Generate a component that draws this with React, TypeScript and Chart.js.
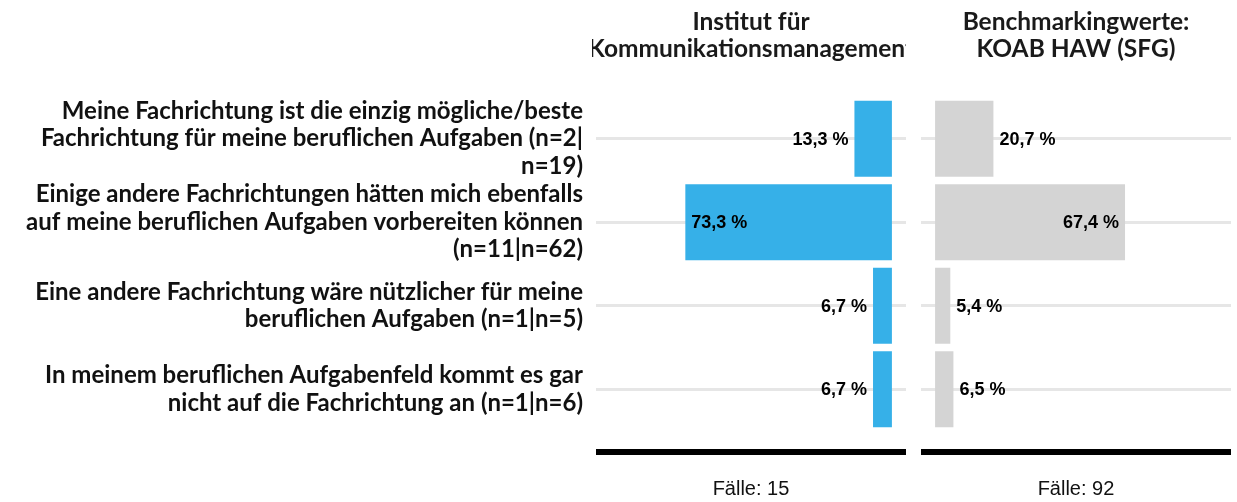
import React, { useEffect, useRef } from "react";
import { Chart, registerables } from "chart.js";

Chart.register(...registerables);

// ---------- data ----------
const categories: string[][] = [
  [
    "Meine Fachrichtung ist die einzig mögliche/beste",
    "Fachrichtung für meine beruflichen Aufgaben (n=2|",
    "n=19)",
  ],
  [
    "Einige andere Fachrichtungen hätten mich ebenfalls",
    "auf meine beruflichen Aufgaben vorbereiten können",
    "(n=11|n=62)",
  ],
  ["Eine andere Fachrichtung wäre nützlicher für meine", "beruflichen Aufgaben (n=1|n=5)"],
  ["In meinem beruflichen Aufgabenfeld kommt es gar", "nicht auf die Fachrichtung an (n=1|n=6)"],
];

const institutValues = [13.3, 73.3, 6.7, 6.7];
const benchmarkValues = [20.7, 67.4, 5.4, 6.5];

const institutTitle = ["Institut für", "Kommunikationsmanagement"];
const benchmarkTitle = ["Benchmarkingwerte:", "KOAB HAW (SFG)"];

const caseCounts = [15, 92];

// ---------- styling ----------
const BLUE = "#36b0e8";
const GRAY = "#d4d4d4";
const GRID = "#e6e6e6";
const TEXT = "#111111";
const LABEL_FONT = "Lato";
const VALUE_FONT = "'Liberation Sans', Arial, sans-serif";

const fmt = (v: number) => v.toFixed(1).replace(".", ",") + " %";

function makePanelPlugin(title: string[], cases: number) {
  return {
    id: "panelDecor",
    afterDatasetsDraw(chart: any) {
      const ctx = chart.ctx as CanvasRenderingContext2D;
      const area = chart.chartArea;
      const cx = (area.left + area.right) / 2;

      // value labels
      const meta = chart.getDatasetMeta(0);
      const values = chart.data.datasets[0].data as number[];
      ctx.save();
      ctx.font = `bold 18px ${VALUE_FONT}`;
      ctx.fillStyle = "#000";
      ctx.textBaseline = "middle";
      meta.data.forEach((bar: any, i: number) => {
        const v = values[i];
        const dir = bar.x >= bar.base ? 1 : -1;
        const inside = v > 50;
        let x: number;
        if (inside) {
          x = bar.x - dir * 6;
          ctx.textAlign = dir > 0 ? "right" : "left";
        } else {
          x = bar.x + dir * 6;
          ctx.textAlign = dir > 0 ? "left" : "right";
        }
        ctx.fillText(fmt(v), x, bar.y + 1);
      });
      ctx.restore();

      // header (clipped to panel)
      ctx.save();
      ctx.beginPath();
      ctx.rect(area.left - 4, 0, area.right - area.left + 4, area.top);
      ctx.clip();
      ctx.font = `bold 24.5px ${LABEL_FONT}`;
      ctx.fillStyle = "#1a1a1a";
      ctx.textAlign = "center";
      ctx.textBaseline = "middle";
      ctx.fillText(title[0], cx, 22);
      ctx.fillText(title[1], cx, 49);
      ctx.restore();

      // bottom line
      ctx.save();
      ctx.fillStyle = "#000";
      ctx.fillRect(area.left, 449, area.right - area.left, 6);
      ctx.font = `20px ${VALUE_FONT}`;
      ctx.fillStyle = "#111";
      ctx.textAlign = "center";
      ctx.textBaseline = "middle";
      ctx.fillText(`Fälle: ${cases}`, cx, 489);
      ctx.restore();
    },
  };
}

function makeConfig(
  values: number[],
  color: string,
  reverse: boolean,
  showLabels: boolean,
  padding: { left: number; right: number },
  title: string[],
  cases: number
): any {
  return {
    type: "bar",
    data: {
      labels: categories,
      datasets: [
        {
          data: values,
          backgroundColor: color,
          borderWidth: 0,
          categoryPercentage: 1,
          barPercentage: 0.91,
        },
      ],
    },
    options: {
      indexAxis: "y",
      responsive: false,
      animation: false,
      devicePixelRatio: 1,
      layout: { padding: { top: 97, bottom: 71, left: padding.left, right: padding.right } },
      plugins: { legend: { display: false }, tooltip: { enabled: false }, title: { display: false } },
      scales: {
        x: {
          display: false,
          min: -5,
          max: 105,
          reverse,
        },
        y: {
          display: true,
          border: { display: false },
          grid: { offset: false, color: GRID, lineWidth: 3, drawTicks: false },
          ticks: {
            display: showLabels,
            autoSkip: false,
            padding: 13,
            color: TEXT,
            font: { family: LABEL_FONT, weight: "bold", size: 24, lineHeight: 1.146 },
          },
          afterFit: (scale: any) => {
            scale.width = showLabels ? 596 : 0;
          },
        },
      },
    },
    plugins: [makePanelPlugin(title, cases)],
  };
}

export default function App() {
  const leftRef = useRef<HTMLCanvasElement>(null);
  const rightRef = useRef<HTMLCanvasElement>(null);

  useEffect(() => {
    const left = new Chart(
      leftRef.current!,
      makeConfig(institutValues, BLUE, true, true, { left: 0, right: 7 }, institutTitle, caseCounts[0])
    );
    const right = new Chart(
      rightRef.current!,
      makeConfig(benchmarkValues, GRAY, false, false, { left: 8, right: 6 }, benchmarkTitle, caseCounts[1])
    );
    return () => {
      left.destroy();
      right.destroy();
    };
  }, []);

  return (
    <div style={{ position: "absolute", left: 0, top: 0, width: 1237, height: 502, background: "#fff" }}>
      <canvas ref={leftRef} width={913} height={502} style={{ position: "absolute", left: 0, top: 0 }} />
      <canvas ref={rightRef} width={324} height={502} style={{ position: "absolute", left: 913, top: 0 }} />
    </div>
  );
}
